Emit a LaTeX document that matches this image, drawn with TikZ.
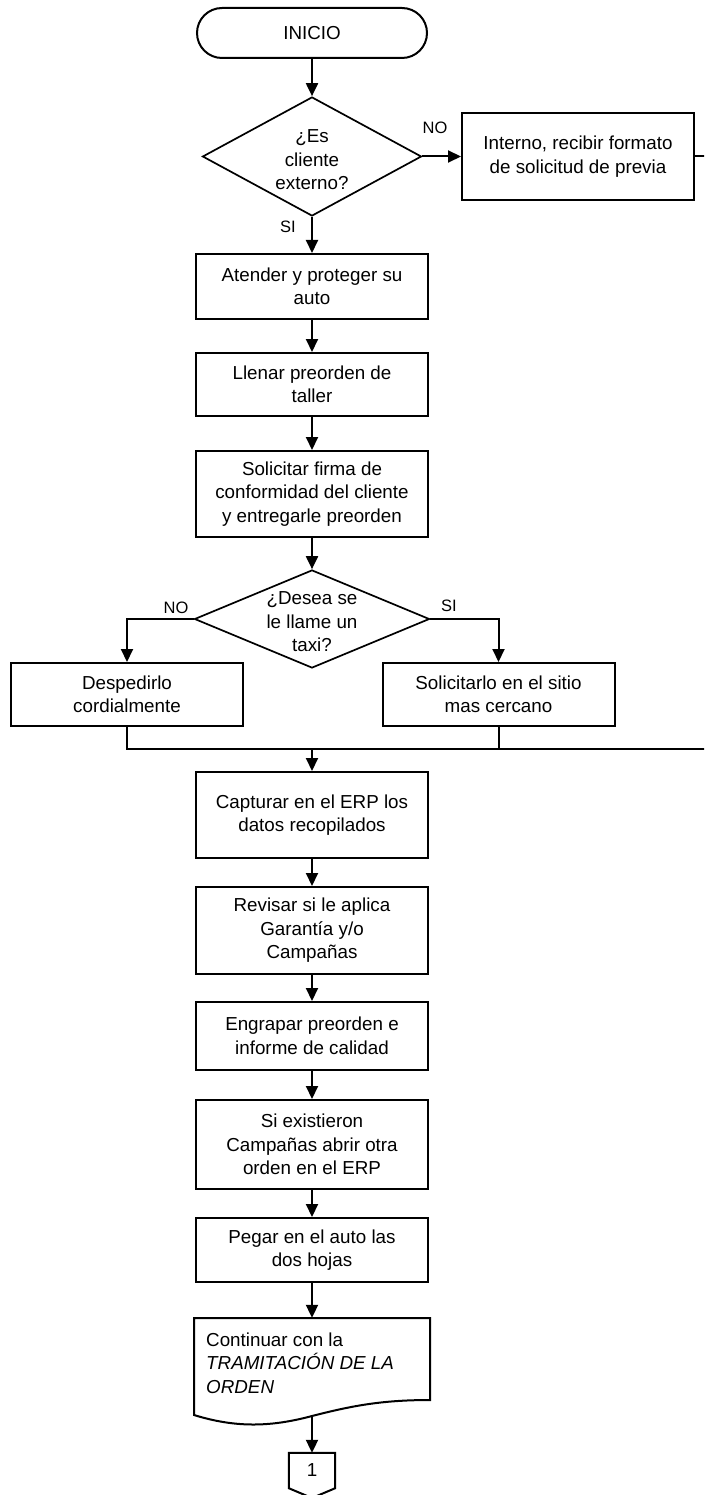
\documentclass[tikz,border=0pt]{standalone}
\usepackage{fontspec}
\setmainfont{Liberation Sans}
\usetikzlibrary{arrows.meta,shapes.geometric}
\newcommand{\txtfont}{\fontsize{18.8}{23.5}\selectfont}
\newcommand{\lblfont}{\fontsize{16.5}{19}\selectfont}
\begin{document}
\begin{tikzpicture}[x=1pt,y=-1pt,
  line/.style={line width=2pt},
  arr/.style={line width=2pt,-{Triangle[width=12pt,length=13pt]}},
  box/.style={draw,line width=2pt,rectangle,minimum width=232pt,align=center,inner sep=2pt,font=\txtfont},
  dia/.style={draw,line width=1.7pt,diamond,inner sep=0pt},
  dtxt/.style={align=center,font=\txtfont,inner sep=0pt},
  lbl/.style={font=\lblfont,inner sep=0pt}]
\useasboundingbox (0,0) rectangle (704,1495);
\clip (0,0) rectangle (704,1495);
\fill[white] (0,0) rectangle (704,1495);

% top
\node[draw,line width=2pt,rounded corners=25pt,minimum width=230pt,minimum height=50pt,font=\txtfont] (inicio) at (312,33) {INICIO};
\node[dia,minimum width=219pt,minimum height=119pt] (d1) at (312,156.5) {};
\node[dtxt] (d1t) at (312,160) {¿Es\\cliente\\externo?};
\node[box,minimum height=87pt] (interno) at (578,156.5) {Interno, recibir formato\\de solicitud de previa};
\node[lbl] (no1) at (435,128) {NO};
\node[lbl] (si1) at (288,227) {SI};

\node[box,minimum height=65pt] (atender) at (312,286.5) {Atender y proteger su\\auto};
\node[box,minimum height=63pt] (llenar) at (312,384.5) {Llenar preorden de\\taller};
\node[box,minimum height=86pt] (firma) at (312,494) {Solicitar firma de\\conformidad del cliente\\y entregarle preorden};

\node[dia,minimum width=235pt,minimum height=98pt] (d2) at (312,619) {};
\node[dtxt] (d2t) at (312,622) {¿Desea se\\le llame un\\taxi?};
\node[lbl] (no2) at (176,608) {NO};
\node[lbl] (si2) at (449,606) {SI};
\node[box,minimum height=63pt] (despedir) at (127,694.5) {Despedirlo\\cordialmente};
\node[box,minimum height=63pt] (taxi) at (498.5,694.5) {Solicitarlo en el sitio\\mas cercano};

\coordinate (mC) at (312,749);
\coordinate (mR) at (706,749);
\coordinate (rT) at (706,156.5);

\node[box,minimum height=86pt] (capturar) at (312,815) {Capturar en el ERP los\\datos recopilados};
\node[box,minimum height=87pt] (revisar) at (312,930.5) {Revisar si le aplica\\Garantía y/o\\Campañas};
\node[box,minimum height=68pt] (engrapar) at (312,1036) {Engrapar preorden e\\informe de calidad};
\node[box,minimum height=89pt] (existieron) at (312,1144.5) {Si existieron\\Campañas abrir otra\\orden en el ERP};
\node[box,minimum height=64pt] (pegar) at (312,1250) {Pegar en el auto las\\dos hojas};

% document shape
\node[minimum width=236pt,minimum height=97pt,inner sep=0pt] (doc) at (312,1366.5) {};
\draw[line] (194,1415) -- (194,1318) -- (430,1318) -- (430,1400)
  .. controls (381,1400) and (351,1406) .. (312,1416)
  .. controls (271,1427) and (236,1428) .. (194,1415) -- cycle;
\node[dtxt,align=left,anchor=west] (doct) at (206,1363) {Continuar con la\\\textit{TRAMITACIÓN DE LA}\\\textit{ORDEN}};
\coordinate (docb) at (312,1416);

% off-page connector
\node[minimum width=46pt,minimum height=35pt,inner sep=0pt,font=\txtfont] (conn) at (312,1470.5) {1};
\draw[line] (conn.south west) -- (conn.north west) -- (conn.north east) -- (conn.south east) -- (312,1498) -- cycle;

% connectors
\draw[arr] (inicio.south) -- (d1.north);
\draw[arr] (d1.east) -- (interno.west);
\draw[arr] (d1.south) -- (atender.north);
\draw[arr] (atender.south) -- (llenar.north);
\draw[arr] (llenar.south) -- (firma.north);
\draw[arr] (firma.south) -- (d2.north);
\draw[arr] (d2.west) -| (despedir.north);
\draw[arr] (d2.east) -| (taxi.north);
\draw[line] (despedir.south) -- (despedir.south |- mC) -- (mR);
\draw[line] (taxi.south) -- (taxi.south |- mC);
\draw[line] (interno.east) -- (rT) -- (mR);
\draw[arr] (mC) -- (capturar.north);
\draw[arr] (capturar.south) -- (revisar.north);
\draw[arr] (revisar.south) -- (engrapar.north);
\draw[arr] (engrapar.south) -- (existieron.north);
\draw[arr] (existieron.south) -- (pegar.north);
\draw[arr] (pegar.south) -- (doc.north);
\draw[arr] (docb) -- (conn.north);
\end{tikzpicture}
\end{document}
